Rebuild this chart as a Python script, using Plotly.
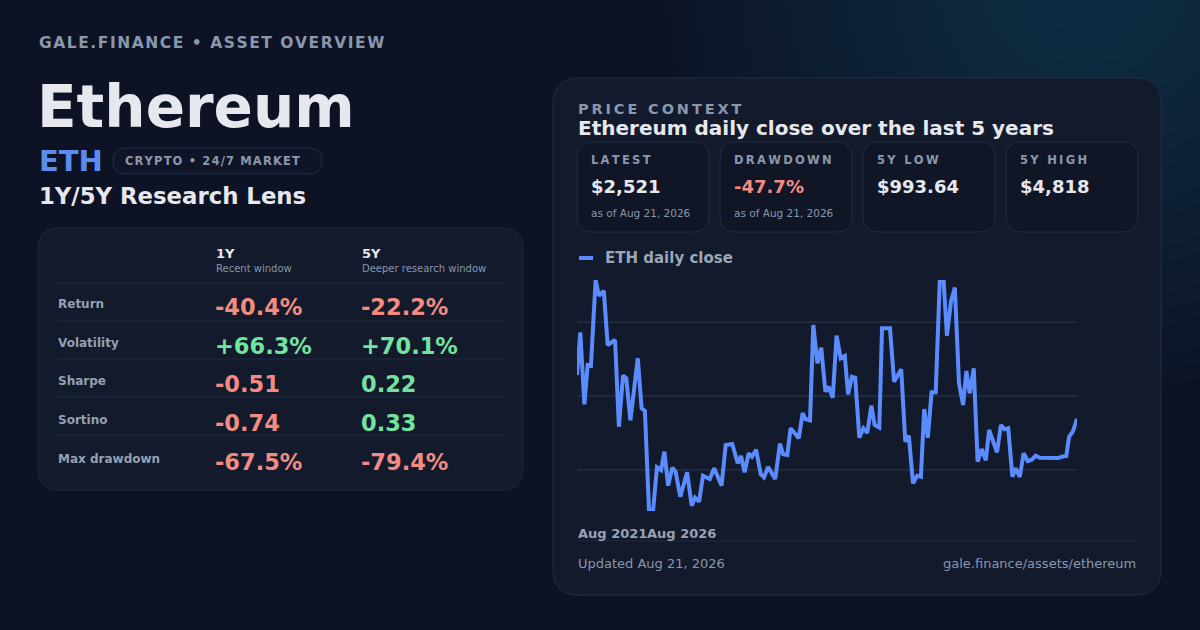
import pandas as pd
import plotly.graph_objects as go

W, H = 1200, 630
FONT = "DejaVu Sans"

# ETH daily close (sampled), days since 2021-08-21
start_date = "2021-08-21"
day_offsets = [0, 12, 27, 39, 51, 68, 80, 98, 112, 139,
               153, 168, 180, 195, 222, 236, 248, 263, 278, 292,
               307, 319, 333, 348, 360, 377, 402, 419, 431, 446,
               460, 485, 501, 528, 543, 567, 587, 599, 612, 627,
               639, 654, 671, 683, 698, 724, 741, 753, 768, 780,
               810, 824, 834, 851, 863, 878, 892, 907, 919, 934,
               948, 963, 978, 990, 1004, 1016, 1031, 1046, 1060, 1075,
               1087, 1104, 1114, 1143, 1158, 1184, 1199, 1212, 1227, 1242,
               1256, 1268, 1281, 1295, 1310, 1325, 1339, 1351, 1366, 1380,
               1395, 1410, 1422, 1434, 1449, 1463, 1478, 1493, 1505, 1519,
               1534, 1548, 1561, 1575, 1590, 1602, 1617, 1631, 1646, 1661,
               1675, 1690, 1758, 1770, 1787, 1797, 1811, 1826]
eth_close = [3245, 3952, 2760, 3411, 3399, 4818, 4558, 4636, 3742, 3825,
             2389, 3234, 3191, 2495, 3522, 2694, 2649, 993.64, 1010, 1717,
             1672, 1975, 1413, 1711, 1644, 1230, 1634, 1081, 1214, 1148,
             1578, 1523, 1701, 1413, 2086, 2103, 1783, 1904, 1634, 1949,
             1893, 2009, 1601, 1552, 1722, 1523, 2108, 1932, 1921, 2363,
             2197, 2616, 2517, 2495, 4073, 3439, 3697, 2969, 3052, 2869,
             3896, 3522, 3560, 2926, 3217, 3201, 2207, 2363, 2285, 2737,
             2417, 2373, 4018, 4018, 3134, 3340, 2141, 2240, 1452, 1578,
             1562, 2682, 2207, 2959, 2959, 4818, 4800, 3896, 4470, 4691,
             3108, 2749, 3311, 2942, 3356, 1810, 2020, 1833, 2335, 2169,
             1965, 2417, 2346, 2363, 1562, 1701, 1557, 1949, 1821, 1843,
             1909, 1876, 1871, 1893, 1904, 2224, 2307, 2521]
grid_values = [1672, 2898, 4123]
x_tick_labels = ["Aug 2021", "Aug 2026"]

# metrics table
metric_names = ["Return", "Volatility", "Sharpe", "Sortino", "Max drawdown"]
metrics_1y = ["-40.4%", "+66.3%", "-0.51", "-0.74", "-67.5%"]
metrics_5y = ["-22.2%", "+70.1%", "0.22", "0.33", "-79.4%"]

# stat boxes
stat_labels = ["LATEST", "DRAWDOWN", "5Y LOW", "5Y HIGH"]
stat_values = ["$2,521", "-47.7%", "$993.64", "$4,818"]
stat_notes = ["as of Aug 21, 2026", "as of Aug 21, 2026", "", ""]

BG = "#0d1324"
CARD = "#121a2c"
BORDER = "#222d42"
MUTED = "#8b97ac"
WHITE = "#e6e8ee"
BLUE = "#5b8cff"
RED = "#f28b82"
GREEN = "#72e3a0"

dates = pd.Timestamp(start_date) + pd.to_timedelta(day_offsets, unit="D")


def px(x, y):
    return x / W, 1 - y / H


def rrect(x0, y0, x1, y1, r):
    pts = [("M", x0 + r, y0), ("L", x1 - r, y0), ("Q", x1, y0, x1, y0 + r),
           ("L", x1, y1 - r), ("Q", x1, y1, x1 - r, y1), ("L", x0 + r, y1),
           ("Q", x0, y1, x0, y1 - r), ("L", x0, y0 + r), ("Q", x0, y0, x0 + r, y0)]
    out = []
    for p in pts:
        cmd, coords = p[0], p[1:]
        s = []
        for i in range(0, len(coords), 2):
            a, b = px(coords[i], coords[i + 1])
            s.append(f"{a:.5f},{b:.5f}")
        out.append(cmd + " " + " ".join(s))
    return " ".join(out) + " Z"


def spaced(s, gap="\u200a"):
    return gap.join(s)


shapes = []
annotations = []


def box(x0, y0, x1, y1, r, fill, line, width=1):
    shapes.append(dict(type="path", path=rrect(x0, y0, x1, y1, r), xref="paper", yref="paper",
                       fillcolor=fill, line=dict(color=line, width=width), layer="below"))


def hline(x0, x1, y, color, width=1):
    a, b = px(x0, y)
    c, _ = px(x1, y)
    shapes.append(dict(type="line", x0=a, x1=c, y0=b, y1=b, xref="paper", yref="paper",
                       line=dict(color=color, width=width), layer="below"))


def text(x, y, s, size, color, bold=True, anchor="left"):
    a, b = px(x, y)
    annotations.append(dict(x=a, y=b, xref="paper", yref="paper", text=f"<b>{s}</b>" if bold else s,
                            showarrow=False, xanchor=anchor, yanchor="middle",
                            font=dict(family=FONT, size=size, color=color)))


# background glow top right
for i in range(26):
    r = 420 - i * 15
    cx, cy = 1085, -25
    a0, b0 = px(cx - r, cy - r)
    a1, b1 = px(cx + r, cy + r)
    shapes.append(dict(type="circle", x0=a0, x1=a1, y0=b1, y1=b0, xref="paper", yref="paper",
                       fillcolor="#2f427e", opacity=0.025, line=dict(width=0), layer="below"))

# header
text(37, 43, spaced("GALE.FINANCE • ASSET OVERVIEW"), 15.5, MUTED)
text(35, 107, "Ethereum", 58, WHITE)
text(37, 161, "ETH", 29, "#5b8def")
box(113, 148, 322, 174, 13, "rgba(17,24,40,0.6)", "#243049")
text(123, 161, spaced("CRYPTO • 24/7 MARKET"), 11.5, MUTED)
text(37, 196, "1Y/5Y Research Lens", 22.8, WHITE)

# metrics card
box(38, 228, 523, 490, 22, CARD, "#1f2a3e")
text(214, 253, "1Y", 13, WHITE)
text(214, 268, "Recent window", 10, MUTED, bold=False)
text(360, 253, "5Y", 13, WHITE)
text(360, 268, "Deeper research window", 10, MUTED, bold=False)
for y in [283, 321, 359, 397, 435]:
    hline(57, 505, y, "#1f2a3e")
for k, name in enumerate(metric_names):
    yc = 304 + k * 38.7
    text(56, yc, name, 12, "#95a0b3")
    text(213, yc + 3, metrics_1y[k], 22.5, RED if metrics_1y[k].startswith("-") else GREEN)
    text(359, yc + 3, metrics_5y[k], 22.5, RED if metrics_5y[k].startswith("-") else GREEN)

# price context card
box(553, 78, 1161, 595, 26, CARD, "#232e44")
text(576, 109, spaced("PRICE CONTEXT", "\u200a\u200a"), 14.5, MUTED)
text(576, 128, "Ethereum daily close over the last 5 years", 20, WHITE)
for k in range(4):
    x0 = 577 + k * 143
    box(x0, 142, x0 + 132, 232, 15, "rgba(14,20,34,0.55)", BORDER)
    text(x0 + 12, 160, spaced(stat_labels[k], "\u200a\u200a"), 11.5, MUTED)
    text(x0 + 12, 186, stat_values[k], 18, RED if stat_values[k].startswith("-") else WHITE)
    if stat_notes[k]:
        text(x0 + 12, 213, stat_notes[k], 10.5, MUTED, bold=False)

# legend
a0, b0 = px(579, 258)
a1, _ = px(593, 258)
shapes.append(dict(type="line", x0=a0, x1=a1, y0=b0, y1=b0, xref="paper", yref="paper",
                   line=dict(color=BLUE, width=4)))
text(603, 258, "ETH daily close", 15, "#9aa6ba")

# x labels and footer
text(576, 533, x_tick_labels[0], 13, "#98a3b5")
text(645, 533, x_tick_labels[1], 13, "#98a3b5")
hline(577, 1137, 541, "#1f2a3e")
text(576, 563, "Updated Aug 21, 2026", 13, MUTED, bold=False)
text(1138, 563, "gale.finance/assets/ethereum", 13, MUTED, bold=False, anchor="right")

fig = go.Figure()
fig.add_trace(go.Scatter(x=dates, y=eth_close, mode="lines", name="ETH daily close",
                         line=dict(color=BLUE, width=4), hoverinfo="skip", showlegend=False))

fig.update_layout(
    width=W, height=H, autosize=False,
    margin=dict(l=0, r=0, t=0, b=0),
    paper_bgcolor=BG, plot_bgcolor="rgba(0,0,0,0)",
    shapes=shapes, annotations=annotations,
    xaxis=dict(domain=[577 / W, 1077 / W], type="date",
               range=[dates[0], dates[-1]], showgrid=False, zeroline=False,
               showticklabels=False, showline=False, fixedrange=True),
    yaxis=dict(domain=[1 - 511 / H, 1 - 280 / H], range=[993.64, 4818],
               tickvals=grid_values, showticklabels=False, gridcolor="#1f2a3e",
               gridwidth=1.5, zeroline=False, showline=False, fixedrange=True),
)

fig.write_html("out.html", config={"displayModeBar": False},
               post_script="document.body.style.margin='0';document.body.style.background='" + BG + "';")
